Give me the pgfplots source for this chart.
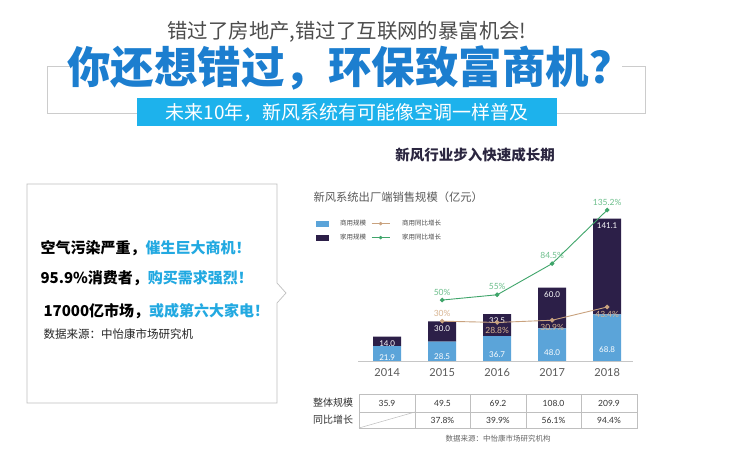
\documentclass[border=0pt]{standalone}
\usepackage{pgfplots}
\pgfplotsset{compat=1.18}
\usepackage{pgfplotstable}
\usepackage{fontspec}
\setmainfont{Noto Sans CJK SC}
\newfontfamily\lato{Lato}
\definecolor{barblue}{HTML}{5BA4D9}
\definecolor{barpurple}{HTML}{2C1F48}
\definecolor{comline}{HTML}{C9A27E}
\definecolor{comlabel}{HTML}{D8B592}
\definecolor{homeline}{HTML}{3FA56A}
\definecolor{homelabel}{HTML}{6DBF8C}
\definecolor{bigblue}{HTML}{1C7ECF}
\definecolor{bannercyan}{HTML}{1DB2EC}
\definecolor{boxcyan}{HTML}{22A9E1}
\definecolor{titlenavy}{HTML}{2B2640}

\pgfplotstableread{
x c h
0 21.9 14.0
1 28.5 30.0
2 36.7 32.5
3 48.0 60.0
4 68.8 141.1
}\scaletab

\pgfplotstableread{
x com home
1 30.0 50.0
2 28.8 55.0
3 30.9 84.5
4 43.4 135.2
}\growtab

\begin{document}
\begin{tikzpicture}
\useasboundingbox[fill=white] (0pt,0pt) rectangle (730pt,470pt);
\begin{scope}[x=1pt,y=1pt]
% header
\draw[gray!40, line width=0.8pt] (72,404) -- (47,404) -- (47,357) -- (645,357) -- (645,404) -- (622,404);
\node[text=black!70, font=\fontsize{20.4}{22}\selectfont] at (347,438) {错过了房地产,错过了互联网的暴富机会!};
\node[text=bigblue, font=\fontsize{43.5}{46}\selectfont\bfseries] at (350,402) {你还想错过，环保致富商机？};
\fill[bannercyan] (137,344) rectangle (557,372);
\node[text=white, font=\fontsize{19}{21}\selectfont] at (347,358) {未来10年，新风系统有可能像空调一样普及};
% left box
\draw[gray!50, line width=0.7pt, fill=white] (277,187) -- (277,286) -- (27,286) -- (27,67) -- (277,67) -- (277,167) -- (286,177) -- cycle;
\node[anchor=west, font=\fontsize{15}{17}\selectfont\bfseries] at (37,222) {空气污染严重，\textcolor{boxcyan}{催生巨大商机！}};
\node[anchor=west, font=\fontsize{15}{17}\selectfont\bfseries] at (37,192) {95.9\%消费者，\textcolor{boxcyan}{购买需求强烈！}};
\node[anchor=west, font=\fontsize{15}{17}\selectfont\bfseries] at (40,159) {17000亿市场，\textcolor{boxcyan}{或成第六大家电！}};
\node[anchor=west, font=\fontsize{11.5}{13}\selectfont, text=black!85] at (40,136) {数据来源：中怡康市场研究机};
% chart titles
\node[text=titlenavy, font=\fontsize{14.5}{16}\selectfont\bfseries] at (475,315) {新风行业步入快速成长期};
\node[anchor=west, text=black!65, font=\fontsize{11.3}{13}\selectfont] at (310,273) {新风系统出厂端销售规模（亿元）};
% table
\draw[gray!50, line width=0.6pt] (359,42) rectangle (637,76);
\draw[gray!50, line width=0.6pt] (359,58) -- (637,58);
\foreach \xx in {415,470,526,581} \draw[gray!50, line width=0.6pt] (\xx,42) -- (\xx,76);
\draw[gray!50, line width=0.5pt] (359,42) -- (415,58);
\node[font=\fontsize{10}{12}\selectfont, text=black!80] at (333,67) {整体规模};
\node[font=\fontsize{10}{12}\selectfont, text=black!80] at (333,50) {同比增长};
\foreach \xx/\vv in {387/35.9,442.5/49.5,498/69.2,553.5/108.0,609/209.9}
  \node[font=\lato\fontsize{8.5}{10}\selectfont, text=black!80] at (\xx,67) {\vv};
\foreach \xx/\vv in {442.5/37.8,498/39.9,553.5/56.1,609/94.4}
  \node[font=\lato\fontsize{8.5}{10}\selectfont, text=black!80] at (\xx,50) {\vv\%};
\node[font=\fontsize{7.5}{9}\selectfont, text=black!60] at (498,31) {数据来源：中怡康市场研究机构};
\end{scope}

\begin{axis}[
  at={(358pt,109pt)}, anchor=south west,
  scale only axis, width=275pt, height=156pt,
  xmin=-0.53, xmax=4.47, ymin=0, ymax=230,
  ybar stacked, bar width=28pt,
  axis x line*=bottom, axis y line=none,
  x axis line style={draw=gray!45, -},
  xtick={0,1,2,3,4}, xticklabels={2014,2015,2016,2017,2018},
  major tick length=0pt, ytick=\empty,
  xticklabel style={font=\lato\fontsize{11}{12}\selectfont, text=black!65, yshift=-4pt},
  /pgf/number format/assume math mode=true,
  legend columns=2,
  legend style={at={(-0.165,0.93)}, anchor=north west, draw=none, fill=none,
    font=\fontsize{6.5}{7}\selectfont, text=black!70, row sep=3pt,
    /tikz/every even column/.append style={column sep=3pt},
    /tikz/every odd column/.append style={column sep=10pt}},
  legend cell align=left,
  nodes near coords={\pgfmathprintnumber[fixed,fixed zerofill,precision=1]{\pgfplotspointmeta}},
  point meta=explicit,
  visualization depends on={rawy \as \seg},
  every node near coord/.append style={font=\lato\fontsize{8}{9}\selectfont, text=white},
  clip=false,
]
\addlegendimage{legend image code/.code={\fill[barblue] (0pt,-2.5pt) rectangle (12pt,2.5pt);}}
\addlegendimage{legend image code/.code={\draw[comline, line width=0.8pt] (0pt,0pt) -- (18pt,0pt); \fill[comline] (9pt,0pt) circle (1.5pt);}}
\addlegendimage{legend image code/.code={\fill[barpurple] (0pt,-2.5pt) rectangle (12pt,2.5pt);}}
\addlegendimage{legend image code/.code={\draw[homeline, line width=0.8pt] (0pt,0pt) -- (18pt,0pt); \fill[homeline] (9pt,0pt) circle (1.5pt);}}
\legend{商用规模,商用同比增长,家用规模,家用同比增长}
\addplot[fill=barblue, draw=none,
  every node near coord/.append style={anchor=center, yshift=-0.25*\seg*0.6783pt}]
  table[x=x, y=c, meta=c] {\scaletab};
\addplot[fill=barpurple, draw=none,
  every node near coord/.append style={anchor=north, yshift=0.5*\seg*0.6783pt-0.5pt}]
  table[x=x, y=h, meta=h] {\scaletab};
\end{axis}

\begin{axis}[
  at={(358pt,109pt)}, anchor=south west,
  scale only axis, width=275pt, height=156pt,
  xmin=-0.53, xmax=4.47, ymin=-7.7, ymax=140,
  hide axis, clip=false,
  /pgf/number format/assume math mode=true,
]
\addplot[color=homeline, line width=0.9pt, mark=*, mark size=1.8pt,
  nodes near coords={\pgfmathprintnumber{\pgfplotspointmeta}\%}, point meta=y,
  every node near coord/.append style={text=homelabel, font=\lato\fontsize{8.5}{9}\selectfont, anchor=south, yshift=1pt}]
  table[x=x, y=home] {\growtab};
\addplot[color=comline, line width=0.9pt, mark=*, mark size=1.8pt] table[x=x, y=com] {\growtab};
\addplot[draw=none, mark=none, restrict x to domain=0.5:1.5,
  nodes near coords={\pgfmathprintnumber{\pgfplotspointmeta}\%}, point meta=y,
  every node near coord/.append style={text=comlabel, font=\lato\fontsize{8.5}{9}\selectfont, anchor=south, yshift=1pt}]
  table[x=x, y=com] {\growtab};
\addplot[draw=none, mark=none, restrict x to domain=1.5:4.5,
  nodes near coords={\pgfmathprintnumber{\pgfplotspointmeta}\%}, point meta=y,
  every node near coord/.append style={text=comlabel, font=\lato\fontsize{8.5}{9}\selectfont, anchor=north, yshift=-1pt}]
  table[x=x, y=com] {\growtab};
\end{axis}
\end{tikzpicture}
\end{document}
